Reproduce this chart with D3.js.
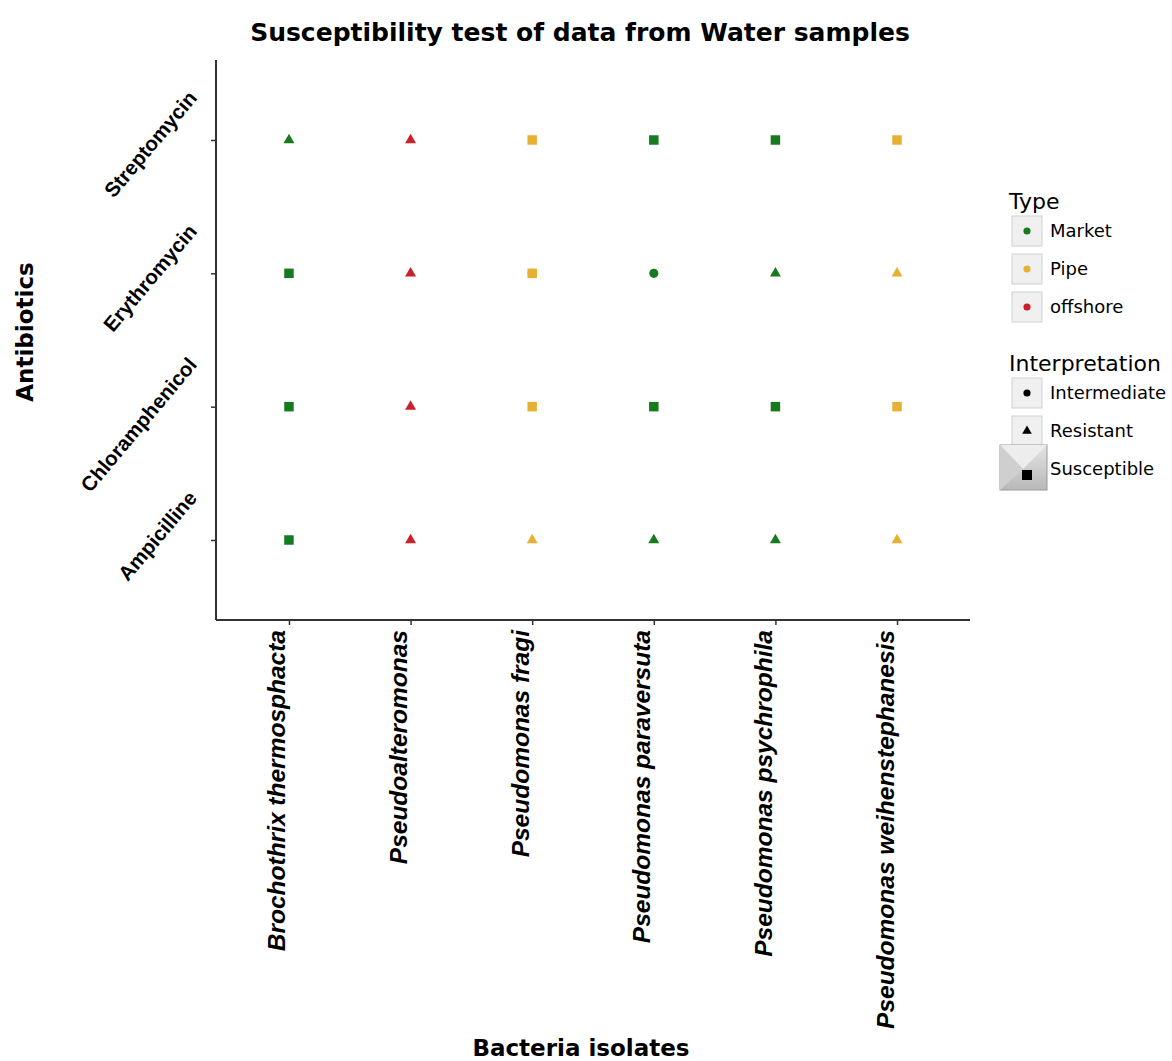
<!DOCTYPE html>
<html><head><meta charset="utf-8">
<script src="https://cdn.jsdelivr.net/npm/d3@7"></script>
<style>body{margin:0;background:#fff;} svg{display:block;font-family:"DejaVu Sans",sans-serif;}</style>
</head><body>
<svg id="c" width="1172" height="1061"></svg>
<script>
const bacteria = ["Brochothrix thermosphacta","Pseudoalteromonas","Pseudomonas fragi","Pseudomonas paraversuta","Pseudomonas psychrophila","Pseudomonas weihenstephanesis"];
const antibiotics = ["Ampicilline","Chloramphenicol","Erythromycin","Streptomycin"];
const typeLevels = ["Market","Pipe","offshore"];
const interpLevels = ["Intermediate","Resistant","Susceptible"];
// rows per antibiotic, columns per bacterium
const typeRows = {
  Streptomycin:    ["Market","offshore","Pipe","Market","Market","Pipe"],
  Erythromycin:    ["Market","offshore","Pipe","Market","Market","Pipe"],
  Chloramphenicol: ["Market","offshore","Pipe","Market","Market","Pipe"],
  Ampicilline:     ["Market","offshore","Pipe","Market","Market","Pipe"]
};
const interpRows = {
  Streptomycin:    ["Resistant","Resistant","Susceptible","Susceptible","Susceptible","Susceptible"],
  Erythromycin:    ["Susceptible","Resistant","Susceptible","Intermediate","Resistant","Resistant"],
  Chloramphenicol: ["Susceptible","Resistant","Susceptible","Susceptible","Susceptible","Susceptible"],
  Ampicilline:     ["Susceptible","Resistant","Resistant","Resistant","Resistant","Resistant"]
};
// extra overlapping observation
const extraPoints = [["Pseudomonas fragi","Erythromycin","Pipe","Intermediate"]];

const svg = d3.select("#c");
const L=216, R=970, T=60, B=620;
const x = d3.scalePoint().domain(bacteria).range([L,R]).padding(0.6);
const y = d3.scalePoint().domain(antibiotics).range([B,T]).padding(0.6);
const color = d3.scaleOrdinal().domain(typeLevels).range(["#177a1e","#e8b032","#cc1f2c"]);
const shape = d3.scaleOrdinal().domain(interpLevels).range([d3.symbolCircle,d3.symbolTriangle,d3.symbolSquare]);
const size = d3.scaleOrdinal().domain(interpLevels).range([66,52,90]);

const pts=[];
antibiotics.forEach(a=>bacteria.forEach((b,i)=>pts.push([b,a,typeRows[a][i],interpRows[a][i]])));
extraPoints.forEach(p=>pts.push(p));

// title
svg.append("text").attr("x",580).attr("y",41).attr("text-anchor","middle")
  .attr("font-size",25).attr("font-weight","bold").text("Susceptibility test of data from Water samples");

// axes
const gx = svg.append("g").attr("transform",`translate(0,${B})`).call(d3.axisBottom(x).tickSize(5).tickSizeOuter(0));
gx.select(".domain").attr("stroke","#333").attr("stroke-width",2).attr("d",`M${L},0H${R}`);
gx.selectAll(".tick line").attr("stroke","#333").attr("stroke-width",1.5);
gx.selectAll(".tick text").attr("font-size",24.5).attr("font-weight","bold").attr("font-style","italic")
  .attr("fill","#000").attr("text-anchor","end").attr("transform","rotate(-90)")
  .attr("x",-10).attr("y",-4).attr("dy",0);

const gy = svg.append("g").attr("transform",`translate(${L},0)`).call(d3.axisLeft(y).tickSize(5).tickSizeOuter(0));
gy.select(".domain").attr("stroke","#333").attr("stroke-width",2).attr("d",`M0,${T}V${B}`);
gy.selectAll(".tick text").attr("font-size",20.5).attr("font-weight","bold").attr("fill","#000")
  .attr("text-anchor","end").attr("x",0).attr("dy",0)
  .attr("transform","translate(-18,-42) rotate(-50)");
gy.selectAll(".tick line").attr("stroke","#333").attr("stroke-width",1.5);

// axis titles
svg.append("text").attr("x",581).attr("y",1056).attr("text-anchor","middle")
  .attr("font-size",23).attr("font-weight","bold").text("Bacteria isolates");
svg.append("text").attr("transform","translate(33,332) rotate(-90)").attr("text-anchor","middle")
  .attr("font-size",23).attr("font-weight","bold").text("Antibiotics");

// points
svg.append("g").selectAll("path").data(pts).join("path")
  .attr("transform",d=>`translate(${x(d[0])},${y(d[1])})`)
  .attr("d",d=>d3.symbol().type(shape(d[3])).size(size(d[3]))())
  .attr("fill",d=>color(d[2]));

// legend
const lg = svg.append("g");
lg.append("text").attr("x",1009).attr("y",209).attr("font-size",22).text("Type");
typeLevels.forEach((t,i)=>{
  const cy=231+i*38;
  lg.append("rect").attr("x",1012).attr("y",cy-15).attr("width",30).attr("height",30)
    .attr("fill","#f0f0f0").attr("stroke","#cfcfcf");
  lg.append("path").attr("transform",`translate(1027,${cy})`).attr("d",d3.symbol().type(d3.symbolCircle).size(40)()).attr("fill",color(t));
  lg.append("text").attr("x",1050).attr("y",cy+6).attr("font-size",18).text(t);
});
lg.append("text").attr("x",1009).attr("y",371).attr("font-size",22).text("Interpretation");
const defs = svg.append("defs");
const gr = defs.append("linearGradient").attr("id","gg").attr("x1",0).attr("y1",0).attr("x2",0).attr("y2",1);
gr.append("stop").attr("offset","0").attr("stop-color","#e4e4e4");
gr.append("stop").attr("offset","1").attr("stop-color","#b8b8b8");
interpLevels.forEach((t,i)=>{
  const cy=393+i*38;
  if(i<2){
    lg.append("rect").attr("x",1012).attr("y",cy-15).attr("width",30).attr("height",30)
      .attr("fill","#f0f0f0").attr("stroke","#cfcfcf");
  } else {
    lg.append("rect").attr("x",1000).attr("y",cy-24).attr("width",47).attr("height",45)
      .attr("fill","url(#gg)").attr("stroke","#9a9a9a");
    lg.append("path").attr("d",`M1000,${cy-24}L1023,${cy}L1047,${cy-24}Z`).attr("fill","#ededed");
    lg.append("path").attr("d",`M1000,${cy-24}L1023,${cy}L1000,${cy+21}Z`).attr("fill","#cfcfcf");
  }
  lg.append("path").attr("transform",`translate(1027,${cy+ (i==2?6:0)})`)
    .attr("d",d3.symbol().type(shape(t)).size(i==2?100:40)()).attr("fill","#000");
  lg.append("text").attr("x",1050).attr("y",cy+6).attr("font-size",18).text(t);
});
</script>
</body></html>
